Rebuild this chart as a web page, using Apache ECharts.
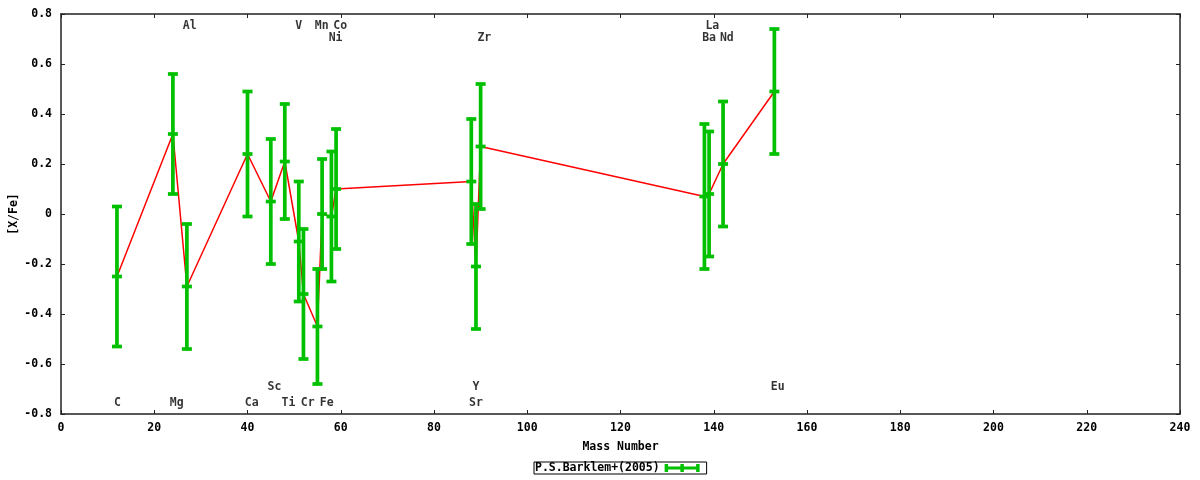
<!DOCTYPE html>
<html>
<head>
<meta charset="utf-8">
<script src="https://cdn.jsdelivr.net/npm/echarts@6/dist/echarts.min.js"></script>
<style>
  html, body { margin: 0; padding: 0; background: #fff; }
  #chart { width: 1200px; height: 480px; }
</style>
</head>
<body>
<div id="chart"></div>
<script>
// abundance ratios, sorted by mass number
var massNumber = [12, 24, 27, 40, 45, 48, 51, 52, 55, 56, 58, 59, 88, 89, 90, 138, 139, 142, 153];
var xFe = [-0.25, 0.32, -0.29, 0.24, 0.05, 0.21, -0.11, -0.32, -0.45, 0.00, -0.01, 0.10, 0.13, -0.21, 0.27, 0.07, 0.08, 0.20, 0.49];
var xFeErr = [0.28, 0.24, 0.25, 0.25, 0.25, 0.23, 0.24, 0.26, 0.23, 0.22, 0.26, 0.24, 0.25, 0.25, 0.25, 0.29, 0.25, 0.25, 0.25];

// element labels (placed where the original puts them)
var elemNames = ['C', 'Mg', 'Al', 'Ca', 'Sc', 'Ti', 'V', 'Cr', 'Mn', 'Fe', 'Co', 'Ni', 'Sr', 'Y', 'Zr', 'Ba', 'La', 'Nd', 'Eu'];
var elemX = [12.1, 24.8, 27.6, 40.9, 45.8, 48.8, 51.0, 52.9, 55.9, 57.0, 59.9, 58.9, 89.0, 89.0, 90.8, 139.0, 139.7, 142.8, 153.7];
var elemY = [-0.755, -0.755, 0.752, -0.755, -0.692, -0.755, 0.752, -0.755, 0.752, -0.755, 0.752, 0.705, -0.755, -0.692, 0.705, 0.705, 0.752, 0.705, -0.692];

var seriesName = 'P.S.Barklem+(2005)';
var GREEN = '#00c000';
var FONT = 'DejaVu Sans Mono';

var barData = massNumber.map(function (m, i) { return [m, xFe[i], xFeErr[i]]; });
var lineData = massNumber.map(function (m, i) { return [m, xFe[i]]; });
var labelData = elemNames.map(function (n, i) { return [elemX[i], elemY[i], n]; });

// gnuplot style error bar: vertical bar + caps + center tick
function renderErrorBar(params, api) {
  var x = api.value(0), y = api.value(1), e = api.value(2);
  var c = api.coord([x, y]);
  var hi = api.coord([x, y + e]);
  var lo = api.coord([x, y - e]);
  var w = 5;
  var st = { stroke: GREEN, lineWidth: 3.7 };
  return {
    type: 'group',
    children: [
      { type: 'line', shape: { x1: c[0], y1: hi[1], x2: c[0], y2: lo[1] }, style: st },
      { type: 'line', shape: { x1: c[0] - w, y1: hi[1], x2: c[0] + w, y2: hi[1] }, style: st },
      { type: 'line', shape: { x1: c[0] - w, y1: lo[1], x2: c[0] + w, y2: lo[1] }, style: st },
      { type: 'line', shape: { x1: c[0] - w, y1: c[1], x2: c[0] + w, y2: c[1] }, style: st }
    ]
  };
}

var axisLine = { show: true, onZero: false, lineStyle: { color: '#222', width: 1.5 } };
var axisTick = { show: true, inside: true, length: 4, lineStyle: { color: '#222', width: 1 } };
var labelFont = { color: '#000', fontFamily: FONT, fontWeight: 'bold', fontSize: 11.5 };

var chart = echarts.init(document.getElementById('chart'));
chart.setOption({
  animation: false,
  backgroundColor: '#fff',
  textStyle: { fontFamily: FONT },
  grid: { left: 61, right: 20, top: 14, bottom: 66, containLabel: false, outerBoundsMode: 'none' },
  legend: {
    data: [{ name: seriesName, icon: 'path://M0,0h3.5v8h-3.5z M0,2.5h35v3h-35z M15.75,0h3.5v8h-3.5z M31.5,0h3.5v8h-3.5z' }],
    left: 534,
    top: 462,
    align: 'right',
    itemWidth: 35,
    itemHeight: 8,
    padding: [0, 7, 0, 1],
    borderColor: '#000',
    borderWidth: 1,
    borderRadius: 0,
    textStyle: labelFont
  },
  xAxis: [{
    type: 'value', min: 0, max: 240, interval: 20,
    name: 'Mass Number', nameLocation: 'middle', nameGap: 27, nameMoveOverlap: false,
    nameTextStyle: labelFont,
    axisLine: axisLine, axisTick: axisTick,
    axisLabel: Object.assign({ margin: 8 }, labelFont),
    splitLine: { show: false }
  }, {
    type: 'value', position: 'top', min: 0, max: 240, interval: 20,
    axisLine: axisLine, axisTick: axisTick,
    axisLabel: { show: false }, splitLine: { show: false }
  }],
  yAxis: [{
    type: 'value', min: -0.8, max: 0.8, interval: 0.2,
    name: '[X/Fe]', nameLocation: 'middle', nameGap: 41, nameRotate: 90, nameMoveOverlap: false,
    nameTextStyle: labelFont,
    axisLine: axisLine, axisTick: axisTick,
    axisLabel: Object.assign({ margin: 9 }, labelFont),
    splitLine: { show: false }
  }, {
    type: 'value', position: 'right', min: -0.8, max: 0.8, interval: 0.2,
    axisLine: axisLine, axisTick: axisTick,
    axisLabel: { show: false }, splitLine: { show: false }
  }],
  series: [
    {
      name: 'line',
      type: 'line',
      data: lineData,
      symbol: 'none',
      z: 2,
      lineStyle: { color: '#ff0000', width: 1.5 }
    },
    {
      name: seriesName,
      type: 'custom',
      data: barData,
      renderItem: renderErrorBar,
      encode: { x: 0, y: 1 },
      itemStyle: { color: GREEN },
      z: 3
    },
    {
      name: 'elements',
      type: 'scatter',
      data: labelData,
      symbolSize: 0,
      z: 4,
      label: {
        show: true,
        position: 'inside',
        formatter: function (p) { return p.value[2]; },
        color: '#000', fontFamily: FONT, fontWeight: 'bold', fontSize: 11.5
      }
    }
  ]
});
</script>
</body>
</html>
